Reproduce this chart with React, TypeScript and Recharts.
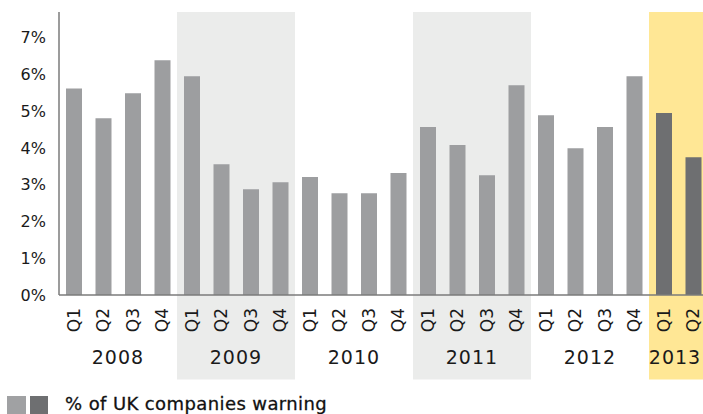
import React from 'react';
import {
    BarChart,
    Bar,
    Cell,
    XAxis,
    YAxis,
    ReferenceArea,
    Legend,
} from 'recharts';

// quarterly share of UK companies issuing profit warnings (%)
const periods = [
    '2008 Q1', '2008 Q2', '2008 Q3', '2008 Q4',
    '2009 Q1', '2009 Q2', '2009 Q3', '2009 Q4',
    '2010 Q1', '2010 Q2', '2010 Q3', '2010 Q4',
    '2011 Q1', '2011 Q2', '2011 Q3', '2011 Q4',
    '2012 Q1', '2012 Q2', '2012 Q3', '2012 Q4',
    '2013 Q1', '2013 Q2',
];
const warningShare = [
    5.62, 4.81, 5.49, 6.39,
    5.95, 3.56, 2.88, 3.07,
    3.21, 2.77, 2.77, 3.32,
    4.57, 4.08, 3.26, 5.71,
    4.89, 3.99, 4.57, 5.95,
    4.95, 3.75,
];
const greyYears = ['2009', '2011'];
const highlightYear = '2013';
const yTicks = [0, 1, 2, 3, 4, 5, 6, 7];

const data = periods.map((p, i) => ({ period: p, share: warningShare[i] }));

const FONT = '"DejaVu Sans", sans-serif';
const BAND = 29.44;

const PeriodTick = (props: any) => {
    const { x, y, payload } = props;
    const [year, quarter] = String(payload.value).split(' ');
    const inYear = periods.filter((p) => p.startsWith(year));
    const pos = inYear.indexOf(payload.value);
    // year label sits in the middle of its quarters
    const mid = (inYear.length - 1) / 2;
    const showYear = pos === Math.floor(mid);
    const offset = (mid - Math.floor(mid)) * BAND;
    // keep the last (cut-off) year inside the window
    const cx = Math.min(x + offset, 675);
    return (
        <g>
            <text
                x={x}
                y={y + 5}
                transform={`rotate(-90, ${x}, ${y + 5})`}
                textAnchor="end"
                dominantBaseline="central"
                fontSize={17}
                fontFamily={FONT}
                fill="#1a1a1a"
            >
                {quarter}
            </text>
            {showYear && (
                <text
                    x={cx}
                    y={y + 61}
                    textAnchor="middle"
                    fontSize={19}
                    letterSpacing={1}
                    fontFamily={FONT}
                    fill="#1a1a1a"
                >
                    {year}
                </text>
            )}
        </g>
    );
};

const LegendBox = () => (
    <div style={{ display: 'flex', alignItems: 'flex-start', paddingTop: 16, fontFamily: FONT }}>
        <span style={{ width: 19, height: 18, background: '#a0a1a3', marginLeft: 7 }} />
        <span style={{ width: 18, height: 18, background: '#6e6f71', marginLeft: 4 }} />
        <span
            style={{
                marginLeft: 17,
                marginTop: -3,
                fontSize: 18,
                letterSpacing: 0.4,
                color: '#111',
                WebkitTextStroke: '0.3px #111',
            }}
        >
            % of UK companies warning
        </span>
    </div>
);

export default function App() {
    return (
        <div style={{ position: 'absolute', left: 0, top: 0, width: 703, height: 414, overflow: 'hidden', background: '#fff' }}>
            <BarChart
                width={708}
                height={420}
                data={data}
                margin={{ top: 12, right: 0, bottom: 0, left: 0 }}
            >
                {greyYears.map((yr) => (
                    <ReferenceArea
                        key={yr}
                        x1={`${yr} Q1`}
                        x2={periods.filter((p) => p.startsWith(yr)).slice(-1)[0]}
                        y1={-2.3}
                        y2={7.7}
                        ifOverflow="visible"
                        fill="#ebeceb"
                        fillOpacity={1}
                        stroke="none"
                    />
                ))}
                <ReferenceArea
                    x1={`${highlightYear} Q1`}
                    x2={periods.filter((p) => p.startsWith(highlightYear)).slice(-1)[0]}
                    y1={-2.3}
                    y2={7.7}
                    ifOverflow="visible"
                    fill="#ffe795"
                    fillOpacity={1}
                    stroke="none"
                />
                <XAxis
                    dataKey="period"
                    interval={0}
                    height={85}
                    tickLine={false}
                    axisLine={{ stroke: '#7b7b7b', strokeWidth: 1.5 }}
                    tick={<PeriodTick />}
                />
                <YAxis
                    width={59}
                    domain={[0, 7.7]}
                    ticks={yTicks}
                    allowDataOverflow
                    tickLine={false}
                    tickMargin={7}
                    axisLine={{ stroke: '#7b7b7b', strokeWidth: 1.5 }}
                    tickFormatter={(v) => `${v}%`}
                    tick={{ fontSize: 16, fontFamily: FONT, fill: '#1a1a1a' }}
                />
                <Legend verticalAlign="bottom" height={40} content={<LegendBox />} />
                <Bar dataKey="share" barSize={16} isAnimationActive={false}>
                    {data.map((d) => (
                        <Cell key={d.period} fill={d.period.startsWith(highlightYear) ? '#6e6f71' : '#9d9ea0'} />
                    ))}
                </Bar>
            </BarChart>
        </div>
    );
}
